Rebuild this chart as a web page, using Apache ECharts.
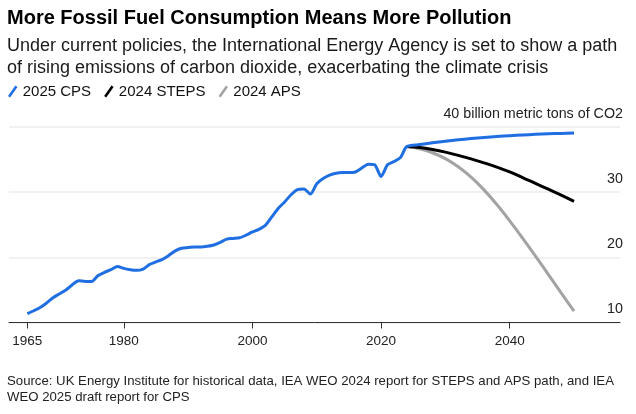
<!DOCTYPE html>
<html>
<head>
<meta charset="utf-8">
<script src="https://cdn.jsdelivr.net/npm/echarts@6/dist/echarts.min.js"></script>
<style>html,body{margin:0;padding:0;background:#fff}#c{width:636px;height:414px}</style>
</head>
<body>
<div id="c"></div>
<script>
// ---- data ----
const histYears = [1965,1966,1967,1968,1969,1970,1971,1972,1973,1974,1975,1976,1977,1978,1979,1980,1981,1982,1983,1984,1985,1986,1987,1988,1989,1990,1991,1992,1993,1994,1995,1996,1997,1998,1999,2000,2001,2002,2003,2004,2005,2006,2007,2008,2009,2010,2011,2012,2013,2014,2015,2016,2017,2018,2019,2020,2021,2022,2023,2024];
const histValues = [11.35,11.8,12.3,13.0,13.8,14.4,15.0,15.8,16.4,16.3,16.3,17.2,17.7,18.1,18.6,18.3,18.1,18.0,18.2,18.9,19.3,19.7,20.3,21.0,21.4,21.5,21.6,21.6,21.7,21.9,22.3,22.8,22.9,23.0,23.4,23.9,24.3,24.9,26.2,27.5,28.5,29.6,30.4,30.5,29.7,31.3,32.1,32.6,32.9,33.0,33.0,33.1,33.7,34.3,34.2,32.4,34.2,34.7,35.3,37.0];
const projYears = [2024,2026,2028,2030,2032,2034,2036,2038,2040,2042,2044,2046,2048,2050];
const cpsValues   = [37.0,37.3,37.57,37.81,38.03,38.22,38.39,38.54,38.67,38.78,38.87,38.95,39.02,39.08];
const stepsValues = [37.0,36.85,36.55,36.15,35.65,35.1,34.5,33.85,33.1,32.25,31.35,30.45,29.55,28.6];
const apsValues   = [37.0,36.65,36.05,35.15,33.9,32.3,30.35,28.1,25.6,22.95,20.2,17.4,14.55,11.75];
const xTickLabels = [1965,1980,2000,2020,2040];
const yTicks = [10,20,30,40];

const titleText = 'More Fossil Fuel Consumption Means More Pollution';
const subtitleText = 'Under current policies, the International Energy Agency is set to show a path\nof rising emissions of carbon dioxide, exacerbating the climate crisis';
const sourceText = 'Source: UK Energy Institute for historical data, IEA WEO 2024 report for STEPS and APS path, and IEA\nWEO 2025 draft report for CPS';
const yUnitLabel = ' billion metric tons of CO2';

const BLUE = '#1f6fe3', BLACK = '#000000', GRAY = '#a3a3a3';
const FONT = '"Liberation Sans", Arial, sans-serif';

const pairs = (xs, ys) => xs.map((x, i) => [x, ys[i]]);
const cpsData = pairs(histYears, histValues).concat(pairs(projYears.slice(1), cpsValues.slice(1)));
const slash = 'path://M0,10 L7,0 L9,1.4 L2,11.4 Z';

const chart = echarts.init(document.getElementById('c'), null, {renderer: 'canvas'});
chart.setOption({
  animation: false,
  backgroundColor: '#fff',
  textStyle: {fontFamily: FONT},
  title: [
    {text: titleText, left: 7, top: 8, padding: 0, textStyle: {fontFamily: FONT, fontSize: 20, fontWeight: 'bold', color: '#000', lineHeight: 20}},
    {text: subtitleText, left: 7, top: 35, padding: 0, textStyle: {fontFamily: FONT, fontSize: 18, fontWeight: 'normal', color: '#1a1a1a', lineHeight: 22}},
    {text: sourceText, left: 7, top: 373, padding: 0, textStyle: {fontFamily: FONT, fontSize: 13.2, fontWeight: 'normal', color: '#222', lineHeight: 16}}
  ],
  legend: {
    left: 8, top: 84, padding: 0, itemWidth: 10, itemHeight: 12, itemGap: 13,
    textStyle: {fontFamily: FONT, fontSize: 15, color: '#111'},
    data: [
      {name: '2025 CPS', icon: slash},
      {name: '2024 STEPS', icon: slash},
      {name: '2024 APS', icon: slash}
    ]
  },
  grid: {left: 9, right: 16, top: 127, bottom: 91.5, containLabel: false},
  xAxis: {
    type: 'value', min: 1962.15, max: 2057.15,
    splitLine: {show: false},
    axisLine: {show: true, lineStyle: {color: '#333', width: 1}},
    axisTick: {show: true, length: 6, lineStyle: {color: '#333'}, customValues: xTickLabels},
    axisLabel: {customValues: xTickLabels, margin: 12, fontSize: 13.5, color: '#222', fontFamily: FONT, formatter: v => String(v)}
  },
  yAxis: {
    type: 'value', position: 'right', min: 10, max: 40, interval: 10,
    axisLine: {show: false}, axisTick: {show: false},
    splitLine: {show: true, lineStyle: {color: '#ececec', width: 1.5}},
    axisLabel: {
      inside: true, margin: -3, fontSize: 14.3, color: '#222', fontFamily: FONT,
      verticalAlign: 'bottom', padding: [0, 0, 6, 0],
      formatter: v => v === 40 ? v + yUnitLabel : String(v)
    }
  },
  series: [
    {name: '2024 APS', type: 'line', data: pairs(projYears, apsValues), smooth: 0.4, showSymbol: false, lineStyle: {color: GRAY, width: 3}, itemStyle: {color: GRAY}, z: 2},
    {name: '2024 STEPS', type: 'line', data: pairs(projYears, stepsValues), smooth: 0.4, showSymbol: false, lineStyle: {color: BLACK, width: 3}, itemStyle: {color: BLACK}, z: 3},
    {name: '2025 CPS', type: 'line', data: cpsData, smooth: 0.25, showSymbol: false, lineStyle: {color: BLUE, width: 3}, itemStyle: {color: BLUE}, z: 4}
  ]
});
</script>
</body>
</html>
